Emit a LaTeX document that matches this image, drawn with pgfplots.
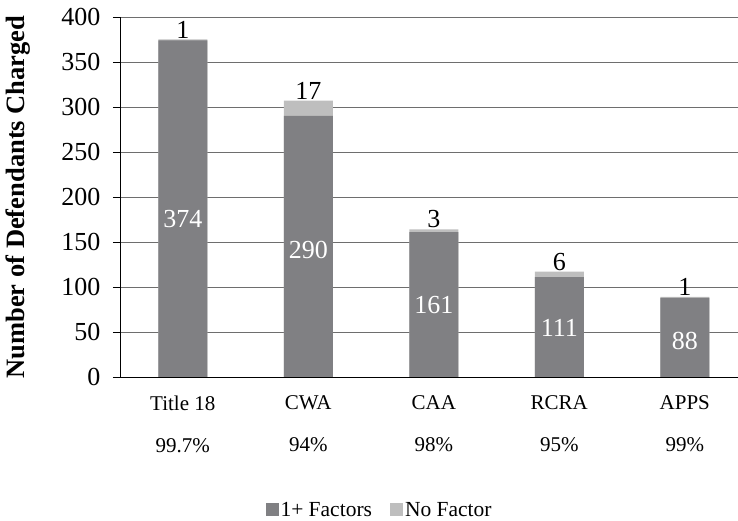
\documentclass[border=0pt]{standalone}
\usepackage{fontspec}
\setmainfont{Liberation Serif}
\usepackage{pgfplots}
\pgfplotsset{compat=1.18}

\definecolor{darkbar}{RGB}{128,128,131}
\definecolor{lightbar}{RGB}{190,190,190}
\definecolor{gridgray}{RGB}{110,110,110}

\newcommand{\fs}[1]{\fontsize{#1}{#1}\selectfont}

\begin{document}
\begin{tikzpicture}
\useasboundingbox (0,0) rectangle (738pt,521pt);
\begin{axis}[
    at={(120pt,144pt)}, anchor=south west,
    width=618pt, height=360pt, scale only axis,
    xmin=-0.5, xmax=4.424,
    ymin=0, ymax=400,
    ytick={0,50,...,400},
    axis x line=bottom, axis y line=left,
    axis line style={black, line width=0.9pt, -},
    tick align=outside,
    major tick length=7pt,
    ymajorgrids,
    grid style={gridgray, line width=0.9pt},
    xtick={0,1,2,3,4},
    xticklabels={Title 18\\[21pt]99.7\%, CWA\\[21pt]94\%, CAA\\[21pt]98\%, RCRA\\[21pt]95\%, APPS\\[21pt]99\%},
    x tick style={draw=none},
    extra x ticks={-0.5,0.5,1.5,2.5,3.5},
    extra x tick labels={},
    extra x tick style={grid=none, tick style={draw=black, line width=0.9pt}},
    y tick style={black, line width=0.9pt},
    xticklabel style={font=\fs{21}, align=center, yshift=-8pt},
    yticklabel style={font=\fs{26}, xshift=-9pt},
    /pgf/number format/assume math mode=true,
    ylabel={\bfseries Number of Defendants Charged},
    every axis y label/.style={at={(axis description cs:0,0.5)}, xshift=-102pt, rotate=90, anchor=center, font=\fs{26.5}},
    legend style={at={(axis description cs:0.42,-0.369)}, anchor=center, draw=none, fill=none,
        legend columns=-1, font=\fs{21.5},
        /tikz/every even column/.append style={column sep=16pt}},
    legend image code/.code={\fill[#1, draw=none] (0pt,-6pt) rectangle (13pt,7pt);},
]
% total (1+ factors + no factor), label = number with no factor
\addplot[ybar, bar width=49pt, bar shift=0pt, fill=lightbar, draw=none, forget plot,
    nodes near coords, point meta=explicit symbolic,
    every node near coord/.append style={font=\fs{26}, black, inner sep=1pt}]
    coordinates {(0,375)[1] (1,307)[17] (2,164)[3] (3,117)[6] (4,89)[1]};
% 1+ factors
\addplot[ybar, bar width=49pt, bar shift=0pt, fill=darkbar, draw=none, forget plot]
    coordinates {(0,374) (1,290) (2,161) (3,111) (4,88)};
% labels inside the dark bars
\addplot[only marks, mark=none, forget plot,
    nodes near coords, point meta=explicit symbolic,
    every node near coord/.append style={anchor=center, font=\fs{26}, white}]
    coordinates {(0,176)[374] (1,141)[290] (2,80)[161] (3,55)[111] (4,40)[88]};
\addlegendimage{fill=darkbar}
\addlegendentry{1+ Factors}
\addlegendimage{fill=lightbar}
\addlegendentry{No Factor}
\end{axis}
\end{tikzpicture}
\end{document}
